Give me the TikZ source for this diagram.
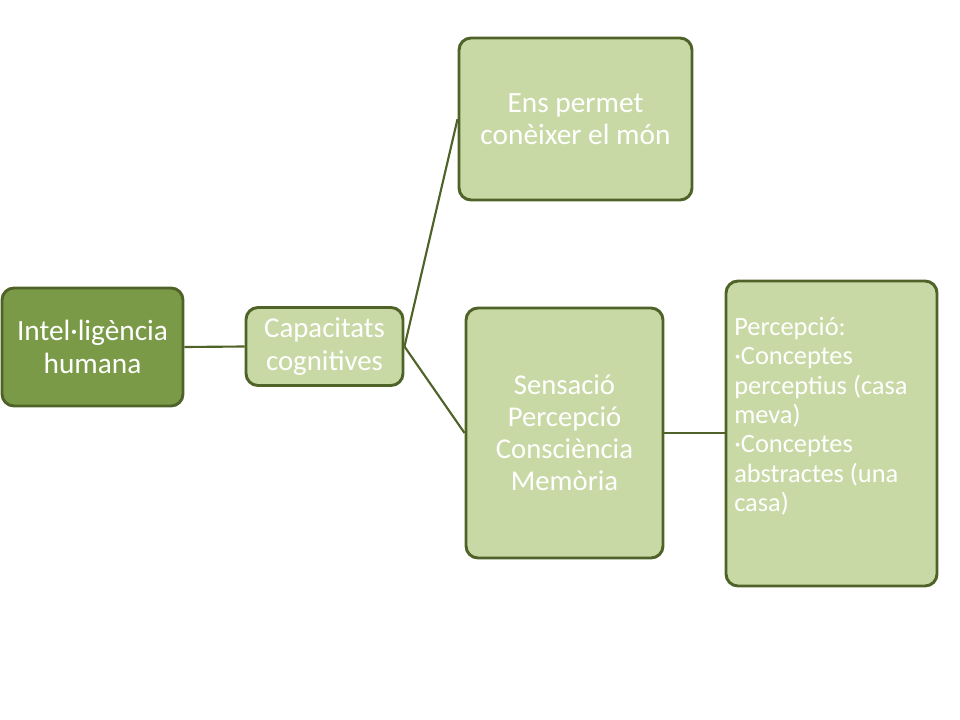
\documentclass[tikz,border=0pt]{standalone}
\usepackage{fontspec}
\setmainfont{Carlito}
\definecolor{darkfill}{RGB}{122,154,72}
\definecolor{lightfill}{RGB}{201,217,165}
\definecolor{edgegreen}{RGB}{79,98,40}
\begin{document}
\begin{tikzpicture}[x=0.75pt,y=-0.75pt,
  box/.style={draw=edgegreen,line width=2.2pt,rounded corners=9pt,text=white,inner sep=0pt},
  darkbox/.style={box,fill=darkfill},
  lightbox/.style={box,fill=lightfill},
  link/.style={draw=edgegreen,line width=1.6pt}]
\useasboundingbox (0,0) rectangle (960,720);
\node[darkbox,minimum width=181*0.75pt,minimum height=118*0.75pt,align=center,font=\fontsize{22}{24.75}\selectfont] (a) at (92.5,347) {Intel·ligència\\humana};
\node[lightbox,minimum width=157*0.75pt,minimum height=78*0.75pt,align=center,font=\fontsize{21.6}{24.75}\selectfont] (b) at (324.5,346.5) {Capacitats\\cognitives};
\node[lightbox,minimum width=233*0.75pt,minimum height=162*0.75pt,align=center,font=\fontsize{22}{24}\selectfont] (c) at (575.5,119) {Ens permet\\conèixer el món};
\node[lightbox,minimum width=197*0.75pt,minimum height=250*0.75pt,align=center,font=\fontsize{21.5}{24}\selectfont] (d) at (564.5,433) {Sensació\\Percepció\\Consciència\\Memòria};
\node[lightbox,minimum width=211*0.75pt,minimum height=305*0.75pt] (e) at (831.5,433.5) {};
\node[text=white,anchor=north west,align=left,inner sep=0pt,font=\fontsize{19.8}{22}\selectfont] (et) at (734,317) {Percepció:\\·Conceptes\\perceptius (casa\\meva)\\·Conceptes\\abstractes (una\\casa)};
\draw[link] (a.east) -- (b.east -| b.west);
\draw[link] (b.east) -- (c.west);
\draw[link] (b.east) -- (d.west);
\draw[link] (d.east) -- (d.east -| e.west);
\end{tikzpicture}
\end{document}
